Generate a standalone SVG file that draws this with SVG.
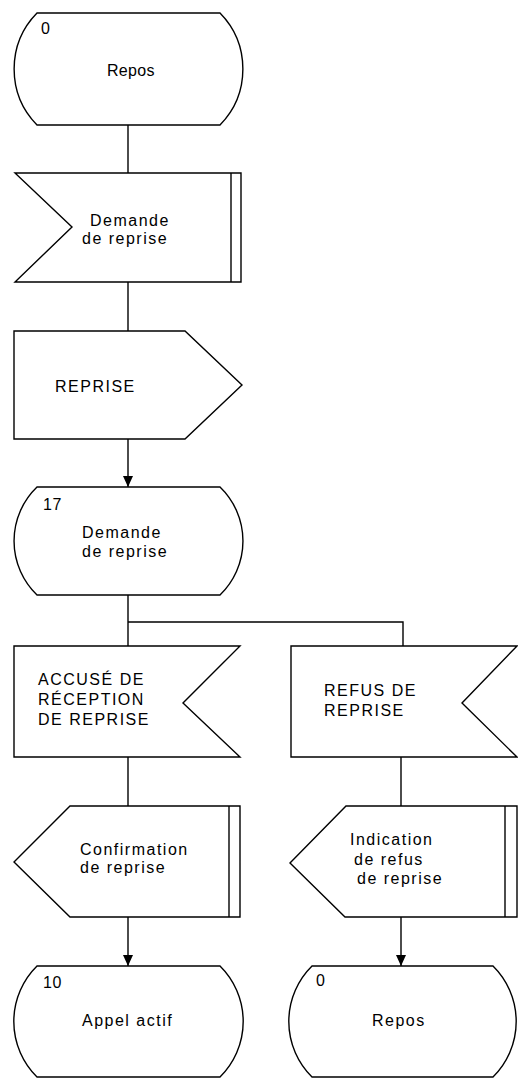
<svg xmlns="http://www.w3.org/2000/svg" width="518" height="1079" viewBox="0 0 518 1079">
  <style>
    .shape { fill: #fff; stroke: #000; stroke-width: 1.4; stroke-linejoin: miter; }
    .bar { fill: none; stroke: #000; stroke-width: 1.4; }
    .wire { fill: none; stroke: #000; stroke-width: 1.4; }
    text { font-family: "Liberation Sans", Arial, sans-serif; font-size: 16px; letter-spacing: 1.5px; fill: #000; }
    .num { letter-spacing: 0.5px; }
  </style>
  <defs>
    <marker id="arrow" viewBox="0 0 11 10" refX="11" refY="5" markerWidth="11" markerHeight="10" markerUnits="userSpaceOnUse" orient="auto">
      <path d="M0,0 L11,5 L0,10 Z" fill="#000"/>
    </marker>
  </defs>
  <rect width="518" height="1079" fill="#fff"/>

  <!-- connectors -->
  <g id="connectors">
    <line class="wire" x1="128" y1="125" x2="128" y2="173"/>
    <line class="wire" x1="128" y1="282" x2="128" y2="331"/>
    <line class="wire" x1="128" y1="439" x2="128" y2="487" marker-end="url(#arrow)"/>
    <line class="wire" x1="128" y1="595" x2="128" y2="646"/>
    <polyline class="wire" points="128,622 403,622 403,646"/>
    <line class="wire" x1="128" y1="757" x2="128" y2="806"/>
    <line class="wire" x1="128" y1="917" x2="128" y2="966" marker-end="url(#arrow)"/>
    <line class="wire" x1="401" y1="757" x2="401" y2="806"/>
    <line class="wire" x1="401" y1="917" x2="401" y2="966" marker-end="url(#arrow)"/>
  </g>

  <!-- state 0 : Repos -->
  <g id="state-0-top">
    <path class="shape" d="M37,13 H220 A80,80 0 0 1 220,125 H37 A80,80 0 0 1 37,13 Z"/>
    <text class="num" x="41" y="34">0</text>
    <text x="107" y="76" style="letter-spacing:0.3px">Repos</text>
  </g>

  <!-- input signal: Demande de reprise -->
  <g id="input-demande">
    <polygon class="shape" points="15,173 241,173 241,282 15,282 72,227"/>
    <line class="bar" x1="231" y1="173" x2="231" y2="282"/>
    <text x="90" y="226">Demande</text>
    <text x="82" y="244">de reprise</text>
  </g>

  <!-- output signal: REPRISE -->
  <g id="output-reprise">
    <polygon class="shape" points="14,331 185,331 242,385 185,439 14,439"/>
    <text x="55" y="392">REPRISE</text>
  </g>

  <!-- state 17 : Demande de reprise -->
  <g id="state-17">
    <path class="shape" d="M37,487 H220 A75,75 0 0 1 220,595 H37 A75,75 0 0 1 37,487 Z"/>
    <text class="num" x="43" y="510">17</text>
    <text x="82" y="538">Demande</text>
    <text x="82" y="557">de reprise</text>
  </g>

  <!-- input: ACCUSÉ DE RÉCEPTION DE REPRISE -->
  <g id="input-accuse">
    <polygon class="shape" points="14,646 240,646 183,703 240,757 14,757"/>
    <text x="38" y="685">ACCUSÉ DE</text>
    <text x="38" y="705">RÉCEPTION</text>
    <text x="38" y="725">DE REPRISE</text>
  </g>

  <!-- input: REFUS DE REPRISE -->
  <g id="input-refus">
    <polygon class="shape" points="291,646 517,646 462,703 517,757 291,757"/>
    <text x="324" y="696">REFUS DE</text>
    <text x="324" y="716">REPRISE</text>
  </g>

  <!-- output: Confirmation de reprise -->
  <g id="output-confirmation">
    <polygon class="shape" points="70,806 240,806 240,917 70,917 14,862"/>
    <line class="bar" x1="229" y1="806" x2="229" y2="917"/>
    <text x="80" y="855">Confirmation</text>
    <text x="80" y="873">de reprise</text>
  </g>

  <!-- output: Indication de refus de reprise -->
  <g id="output-indication">
    <polygon class="shape" points="346,806 517,806 517,917 345,917 290,863"/>
    <line class="bar" x1="505" y1="806" x2="505" y2="917"/>
    <text x="350" y="845">Indication</text>
    <text x="354" y="865">de refus</text>
    <text x="357" y="884">de reprise</text>
  </g>

  <!-- state 10 : Appel actif -->
  <g id="state-10">
    <path class="shape" d="M37,966 H220 A78,78 0 0 1 220,1077 H37 A78,78 0 0 1 37,966 Z"/>
    <text class="num" x="43" y="988">10</text>
    <text x="82" y="1026">Appel actif</text>
  </g>

  <!-- state 0 : Repos (after refusal) -->
  <g id="state-0-bottom">
    <path class="shape" d="M312,966 H493 A78,78 0 0 1 493,1077 H312 A78,78 0 0 1 312,966 Z"/>
    <text class="num" x="316" y="986">0</text>
    <text x="372" y="1026">Repos</text>
  </g>
</svg>
